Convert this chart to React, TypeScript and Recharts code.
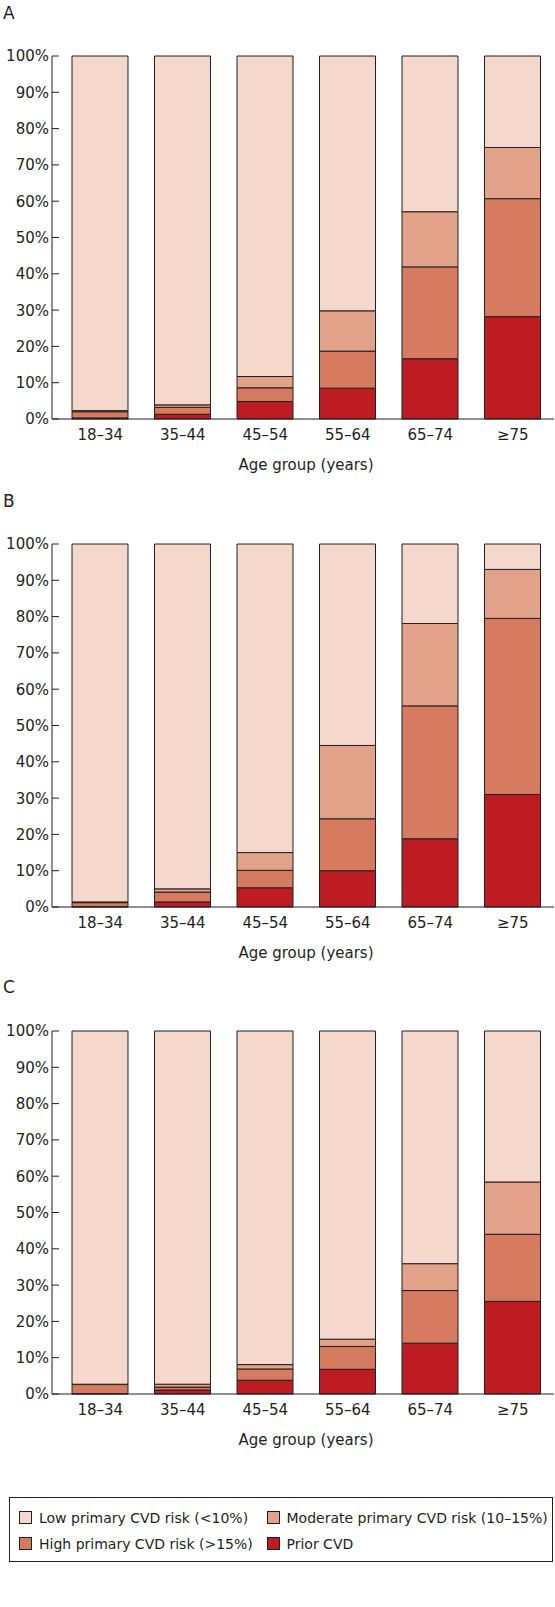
import React from 'react';
import { BarChart, Bar, XAxis, YAxis, Label } from 'recharts';

const categories = ['18–34', '35–44', '45–54', '55–64', '65–74', '≥75'];

// Panel A
const aPrior = [0.3, 1.3, 4.8, 8.5, 16.6, 28.2];
const aHigh = [1.7, 1.9, 3.8, 10.2, 25.3, 32.5];
const aModerate = [0.3, 0.7, 3.1, 11.1, 15.2, 14.1];
const aLow = [97.7, 96.1, 88.3, 70.2, 42.9, 25.2];

// Panel B
const bPrior = [0.1, 1.4, 5.3, 10.0, 18.8, 31.0];
const bHigh = [1.1, 2.7, 4.8, 14.3, 36.6, 48.5];
const bModerate = [0.2, 0.9, 4.9, 20.2, 22.7, 13.5];
const bLow = [98.6, 95.0, 85.0, 55.5, 21.9, 7.0];

// Panel C
const cPrior = [0.1, 1.1, 3.8, 6.8, 14.0, 25.5];
const cHigh = [2.5, 0.8, 3.1, 6.3, 14.5, 18.5];
const cModerate = [0.1, 0.8, 1.2, 2.0, 7.4, 14.4];
const cLow = [97.3, 97.3, 91.9, 84.9, 64.1, 41.6];

const yTicks = [0, 10, 20, 30, 40, 50, 60, 70, 80, 90, 100];

const seriesLabels = {
  low: 'Low primary CVD risk (<10%)',
  moderate: 'Moderate primary CVD risk (10–15%)',
  high: 'High primary CVD risk (>15%)',
  prior: 'Prior CVD',
};

const COLORS = {
  low: '#f4d8cc',
  moderate: '#e2a28a',
  high: '#d67a60',
  prior: '#bd1c22',
};

const INK = '#231f20';
const FONT = '"DejaVu Sans", "Noto Sans", sans-serif';

function build(prior: number[], high: number[], moderate: number[], low: number[]) {
  return categories.map((age, i) => ({
    age,
    prior: prior[i],
    high: high[i],
    moderate: moderate[i],
    low: low[i],
  }));
}

const dataA = build(aPrior, aHigh, aModerate, aLow);
const dataB = build(bPrior, bHigh, bModerate, bLow);
const dataC = build(cPrior, cHigh, cModerate, cLow);

const YTick = (props: any) => {
  const { x, y, payload } = props;
  return (
    <g>
      <line x1={x + 3} x2={x + 10} y1={y} y2={y} stroke={INK} strokeWidth={1} />
      <text
        x={x}
        y={y}
        dy="0.36em"
        textAnchor="end"
        fill={INK}
        style={{ fontFamily: FONT, fontSize: 15 }}
      >
        {payload.value}%
      </text>
    </g>
  );
};

const Panel = ({ data, top, letter }: { data: any[]; top: number; letter: string }) => (
  <div style={{ position: 'absolute', left: 0, top, width: 555, height: 480 }}>
    <div
      style={{
        position: 'absolute',
        left: 3,
        top: 4.5,
        fontFamily: FONT,
        fontSize: 17,
        lineHeight: '17px',
        color: INK,
      }}
    >
      {letter}
    </div>
    <BarChart
      width={555}
      height={480}
      data={data}
      margin={{ top: 56, right: 1, bottom: 0, left: 0 }}
    >
      <XAxis
        dataKey="age"
        axisLine={{ stroke: INK, strokeWidth: 1 }}
        tickLine={false}
        tickSize={0}
        tickMargin={10}
        padding={{ left: 7, right: 0 }}
        height={61}
        interval={0}
        tick={{ fill: INK, fontSize: 15, fontFamily: FONT }}
      >
        <Label
          value="Age group (years)"
          position="insideBottom"
          offset={10}
          dx={3}
          style={{ fill: INK, fontSize: 15, fontFamily: FONT }}
        />
      </XAxis>
      <YAxis
        domain={[0, 100]}
        ticks={yTicks}
        width={52}
        interval={0}
        axisLine={{ stroke: INK, strokeWidth: 1 }}
        tickLine={false}
        tickSize={0}
        tickMargin={3}
        tick={<YTick />}
      />
      <Bar dataKey="prior" stackId="s" fill={COLORS.prior} stroke={INK} strokeWidth={1} barSize={56} isAnimationActive={false} />
      <Bar dataKey="high" stackId="s" fill={COLORS.high} stroke={INK} strokeWidth={1} barSize={56} isAnimationActive={false} />
      <Bar dataKey="moderate" stackId="s" fill={COLORS.moderate} stroke={INK} strokeWidth={1} barSize={56} isAnimationActive={false} />
      <Bar dataKey="low" stackId="s" fill={COLORS.low} stroke={INK} strokeWidth={1} barSize={56} isAnimationActive={false} />
    </BarChart>
  </div>
);

const LegendItem = ({ left, top, color, text }: { left: number; top: number; color: string; text: string }) => (
  <div style={{ position: 'absolute', left, top, height: 14, display: 'flex', alignItems: 'center' }}>
    <div
      style={{
        width: 13,
        height: 13,
        boxSizing: 'border-box',
        border: `1px solid ${INK}`,
        background: color,
        marginRight: 7,
      }}
    />
    <span style={{ fontFamily: FONT, fontSize: 14, lineHeight: '14px', color: INK, whiteSpace: 'nowrap' }}>
      {text}
    </span>
  </div>
);

const LegendBox = () => (
  <div
    style={{
      position: 'absolute',
      left: 9,
      top: 1496.5,
      width: 544,
      height: 65,
      boxSizing: 'border-box',
      border: `1px solid ${INK}`,
    }}
  >
    <LegendItem left={9} top={13} color={COLORS.low} text={seriesLabels.low} />
    <LegendItem left={256.5} top={13} color={COLORS.moderate} text={seriesLabels.moderate} />
    <LegendItem left={9} top={39} color={COLORS.high} text={seriesLabels.high} />
    <LegendItem left={256.5} top={39} color={COLORS.prior} text={seriesLabels.prior} />
  </div>
);

export default function App() {
  return (
    <div style={{ position: 'absolute', left: 0, top: 0, width: 555, height: 1607, background: '#fff' }}>
      <Panel data={dataA} top={0} letter="A" />
      <Panel data={dataB} top={488} letter="B" />
      <Panel data={dataC} top={974.5} letter="C" />
      <LegendBox />
    </div>
  );
}
